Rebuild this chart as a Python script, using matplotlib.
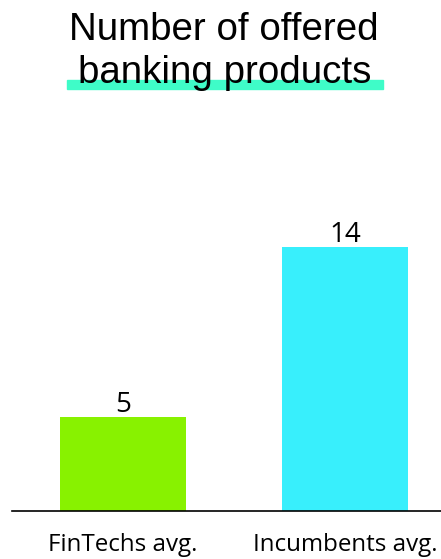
import matplotlib
matplotlib.use("Agg")
import matplotlib.pyplot as plt
from matplotlib.patches import Rectangle

# data
categories = ["FinTechs avg.", "Incumbents avg."]
values = [5, 14]
colors = ["#88f200", "#38effc"]

fig = plt.figure(figsize=(4.41, 5.59), dpi=100)
W, H = 441, 559

# axes placed in pixel terms
ax = fig.add_axes([12 / W, 1 - 511 / H, 1 - 12 / W, (511 - 120) / H])
ax.bar(range(len(values)), values, width=0.567, color=colors)
ax.set_xlim(-0.5, 1.432)
ax.set_ylim(0, 391 / 18.85)

for i, v in enumerate(values):
    ax.annotate(str(v), (i, v), xytext=(0, 3.5), textcoords="offset points",
                ha="center", va="baseline", fontsize=20, family="Open Sans")

ax.set_xticks(range(len(values)))
ax.set_xticklabels(categories, family="Open Sans", fontsize=17.4)
ax.tick_params(axis="x", length=0, pad=16)
ax.set_yticks([])
for s in ["top", "right", "left"]:
    ax.spines[s].set_visible(False)
ax.spines["bottom"].set_linewidth(1.2)

# highlight under the title
fig.patches.append(Rectangle((67 / W, 1 - 89 / H), (383 - 67) / W, 9 / H,
                             transform=fig.transFigure, color="#3ffcc8", zorder=0))
fig.text(224 / W, 1 - 40 / H, "Number of offered", ha="center", va="baseline",
         fontsize=27.7, family="Liberation Sans", zorder=2)
fig.text(225 / W, 1 - 83 / H, "banking products", ha="center", va="baseline",
         fontsize=27.7, family="Liberation Sans", zorder=2)

fig.savefig("out.png", dpi=100)
